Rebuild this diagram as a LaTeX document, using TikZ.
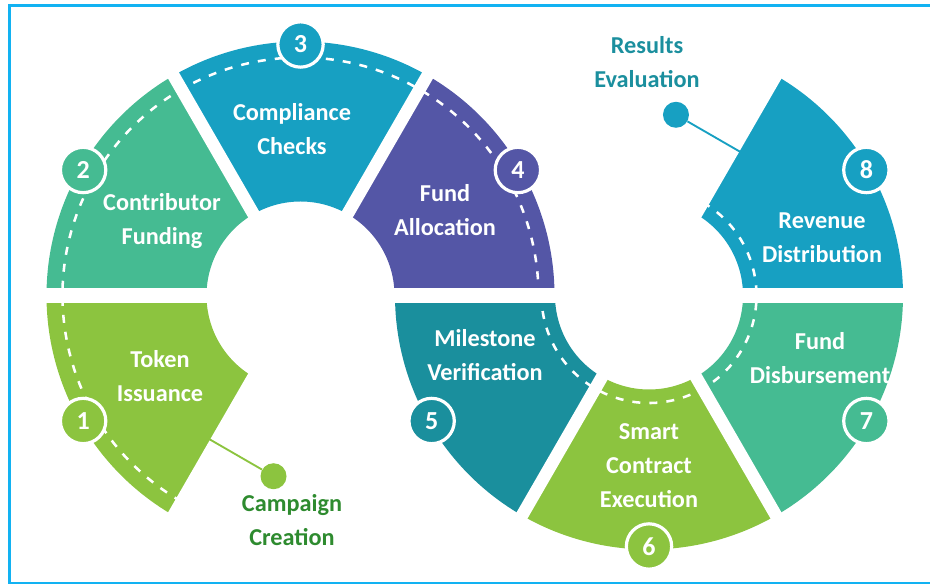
\documentclass[tikz,border=0pt]{standalone}
\usepackage{fontspec}
\setmainfont{Carlito}
\usetikzlibrary{calc}
\definecolor{cLime}{HTML}{8CC43F}
\definecolor{cGreen}{HTML}{45BB92}
\definecolor{cBlue}{HTML}{17A0C2}
\definecolor{cPurple}{HTML}{5456A6}
\definecolor{cTeal}{HTML}{1A8F9D}
\definecolor{cFrame}{HTML}{12B2F2}
\definecolor{cDarkGreen}{HTML}{2E8B2F}
\definecolor{cTealText}{HTML}{1B8F9E}
\newcommand{\ringsector}[4]{%
  \fill[#4] ($(#1)+(#2:254)$) arc[start angle=#2,end angle=#3,radius=254]
    -- ($(#1)+(#3:94)$) arc[start angle=#3,end angle=#2,radius=94] -- cycle;}
\begin{document}
\begin{tikzpicture}[x=0.75pt,y=0.75pt,
  lbl/.style={text=white,font=\bfseries\fontsize{18.2}{25.5}\selectfont,align=center,inner sep=0pt},
  outlbl/.style={font=\bfseries\fontsize{18.2}{25.5}\selectfont,align=center,inner sep=0pt},
  num/.style={circle,fill=#1,draw=white,line width=2.4pt,minimum size=34pt,inner sep=0pt,
    text=white,font=\bfseries\fontsize{19.5}{20}\selectfont},
  roadline/.style={white,line width=1.9pt,dash pattern=on 6pt off 6.8pt},
  gapband/.style={white,line width=9.4pt},
  hgap/.style={white,line width=11.25pt},
  dot/.style={circle,fill=#1,minimum size=19.5pt,inner sep=0pt},
  leader/.style={line width=1.4pt}]
\useasboundingbox (0,0) rectangle (930,584);
\coordinate (Lc) at (300.5,288.5);
\coordinate (Rc) at (649,288.5);
% frame
\draw[cFrame,line width=2.6pt] (8,578.5) -- (930,578.5);
\draw[cFrame,line width=2.6pt] (9.5,579.8) -- (9.5,0);
\draw[cFrame,line width=1.5pt] (8,1.2) -- (930,1.2);
% left ring
\ringsector{Lc}{180}{240}{cLime}
\ringsector{Lc}{120}{180}{cGreen}
\ringsector{Lc}{60}{120}{cBlue}
\ringsector{Lc}{0}{60}{cPurple}
% right ring
\ringsector{Rc}{180}{240}{cTeal}
\ringsector{Rc}{240}{300}{cLime}
\ringsector{Rc}{300}{360}{cGreen}
\ringsector{Rc}{0}{60}{cBlue}
% dashed roads
\draw[roadline] ($(Lc)+(240:238)$) arc[start angle=240,end angle=0,radius=238];
\draw[roadline] ($(Rc)+(60:107.5)$) arc[start angle=60,end angle=-180,radius=107.5];
% gaps
\draw[hgap] (30,288.5) -- (925,288.5);
\foreach \a in {60,120,240} {\draw[gapband] (Lc) -- ++(\a:275);}
\foreach \a in {60,240,300} {\draw[gapband] (Rc) -- ++(\a:275);}
% number circles
\node[num=cLime] (n1) at ($(Lc)+(210:251)$) {1};
\node[num=cGreen] (n2) at ($(Lc)+(150:251)$) {2};
\node[num=cBlue] (n3) at ($(Lc)+(90:251)$) {3};
\node[num=cPurple] (n4) at ($(Lc)+(30:251)$) {4};
\node[num=cTeal] (n5) at ($(Rc)+(210:251)$) {5};
\node[num=cLime] (n6) at ($(Rc)+(270:251)$) {6};
\node[num=cGreen] (n7) at ($(Rc)+(330:251)$) {7};
\node[num=cBlue] (n8) at ($(Rc)+(30:251)$) {8};
% labels
\node[lbl] (t1) at (160,207.5) {Token\\Issuance};
\node[lbl] (t2) at (162,362.5) {Contributor\\Funding};
\node[lbl] (t3) at (292,454.5) {Compliance\\Checks};
\node[lbl] (t4) at (445,374) {Fund\\Allocation};
\node[lbl] (t5) at (485,229) {Milestone\\Verification};
\node[lbl] (t6) at (649,118) {Smart\\Contract\\Execution};
\node[lbl] (t7) at (820,225.5) {Fund\\Disbursement};
\node[lbl] (t8) at (822,346.5) {Revenue\\Distribution};
% leaders
\coordinate (e1) at ($(Lc)+(240:170)+(150:7)$);
\node[dot=cLime] (d1) at ($(e1)+(330:74)$) {};
\draw[leader,cLime] (e1) -- (d1);
\node[outlbl,text=cDarkGreen] (campaign) at (292,64) {Campaign\\Creation};
\coordinate (e8) at ($(Rc)+(60:170)+(330:7)$);
\node[dot=cBlue] (d8) at ($(e8)+(150:74)$) {};
\draw[leader,cBlue] (e8) -- (d8);
\node[outlbl,text=cTealText] (results) at (647,522) {Results\\Evaluation};
\end{tikzpicture}
\end{document}
